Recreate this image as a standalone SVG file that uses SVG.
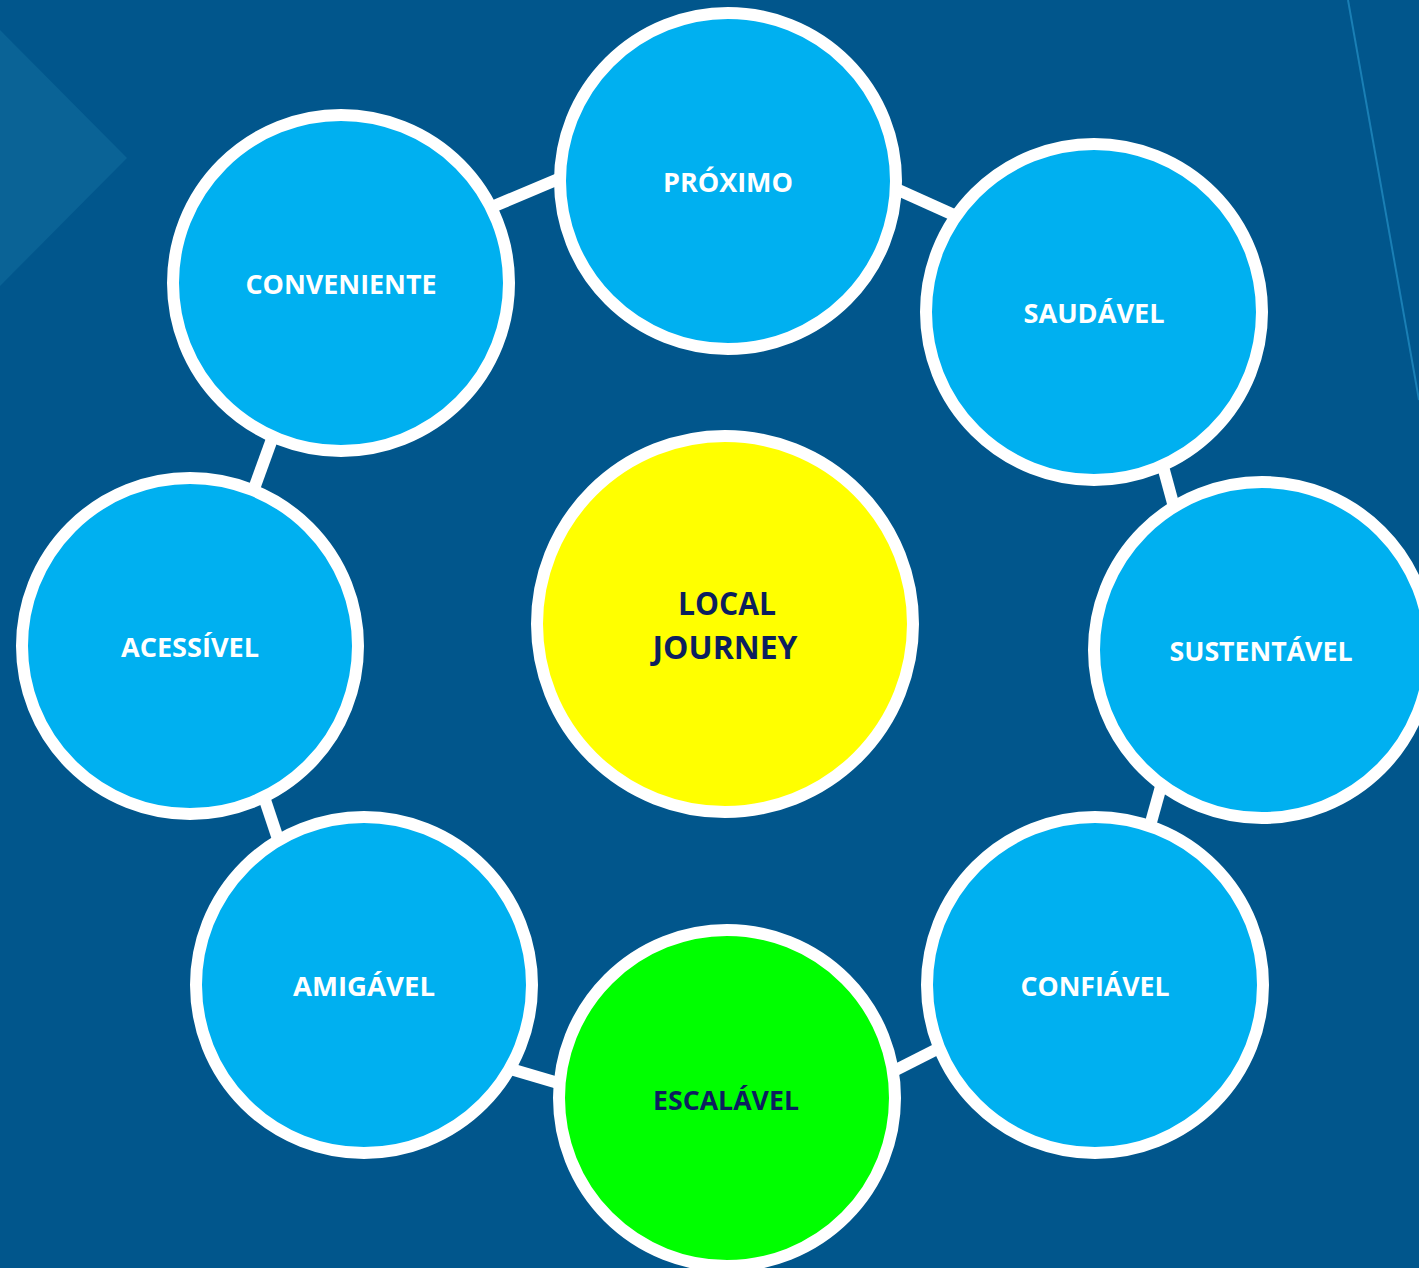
<svg xmlns="http://www.w3.org/2000/svg" width="1419" height="1268" viewBox="0 0 1419 1268">
<style>
.node{stroke:#ffffff;stroke-width:12}
.blue{fill:#00b0f0}
.lbl{font-family:"Open Sans","Noto Sans","Liberation Sans",sans-serif;font-weight:bold;font-size:27px;text-anchor:middle;fill:#ffffff}
.dark{fill:#0c1f5e}
.conn line{stroke:#ffffff;stroke-width:12;stroke-linecap:butt}
</style>
<rect x="0" y="0" width="1419" height="1268" fill="#01568c"/>
<polygon points="0,30 127,158 0,286" fill="#0a6396"/>
<line x1="1348" y1="0" x2="1419" y2="400" stroke="#1a7fb5" stroke-width="2"/>
<g id="connectors" class="conn">
<line x1="480" y1="212" x2="575" y2="172"/>
<line x1="885" y1="184" x2="965" y2="220"/>
<line x1="1158" y1="448" x2="1177" y2="518"/>
<line x1="1165" y1="772" x2="1148" y2="833"/>
<line x1="880" y1="1078" x2="955" y2="1040"/>
<line x1="500" y1="1066" x2="575" y2="1088"/>
<line x1="259" y1="782" x2="281" y2="848"/>
<line x1="276" y1="428" x2="251" y2="497"/>
</g>
<g id="proximo"><circle class="node blue" cx="728" cy="181" r="168"/><text class="lbl" x="728" y="192" textLength="130" lengthAdjust="spacingAndGlyphs">PRÓXIMO</text></g>
<g id="conveniente"><circle class="node blue" cx="341" cy="283" r="168"/><text class="lbl" x="341" y="294" textLength="191" lengthAdjust="spacingAndGlyphs">CONVENIENTE</text></g>
<g id="saudavel"><circle class="node blue" cx="1094" cy="312" r="168"/><text class="lbl" x="1094" y="323" textLength="141" lengthAdjust="spacingAndGlyphs">SAUDÁVEL</text></g>
<g id="sustentavel"><circle class="node blue" cx="1262" cy="650" r="168"/><text class="lbl" x="1261" y="661" textLength="183" lengthAdjust="spacingAndGlyphs">SUSTENTÁVEL</text></g>
<g id="confiavel"><circle class="node blue" cx="1095" cy="985" r="168"/><text class="lbl" x="1095" y="996" textLength="149" lengthAdjust="spacingAndGlyphs">CONFIÁVEL</text></g>
<g id="escalavel"><circle class="node" fill="#00ff00" cx="727" cy="1098" r="168"/><text class="lbl dark" x="726" y="1110" textLength="146" lengthAdjust="spacingAndGlyphs">ESCALÁVEL</text></g>
<g id="amigavel"><circle class="node blue" cx="364" cy="985" r="168"/><text class="lbl" x="364" y="996" textLength="142" lengthAdjust="spacingAndGlyphs">AMIGÁVEL</text></g>
<g id="acessivel"><circle class="node blue" cx="190" cy="646" r="168"/><text class="lbl" x="190" y="657" textLength="138" lengthAdjust="spacingAndGlyphs">ACESSÍVEL</text></g>
<g id="local-journey"><circle class="node" fill="#ffff00" cx="725" cy="624" r="188"/><text class="lbl dark" style="font-size:32px" x="727" y="615" textLength="98" lengthAdjust="spacingAndGlyphs">LOCAL</text><text class="lbl dark" style="font-size:32px" x="725" y="659" textLength="145" lengthAdjust="spacingAndGlyphs">JOURNEY</text></g>
</svg>
